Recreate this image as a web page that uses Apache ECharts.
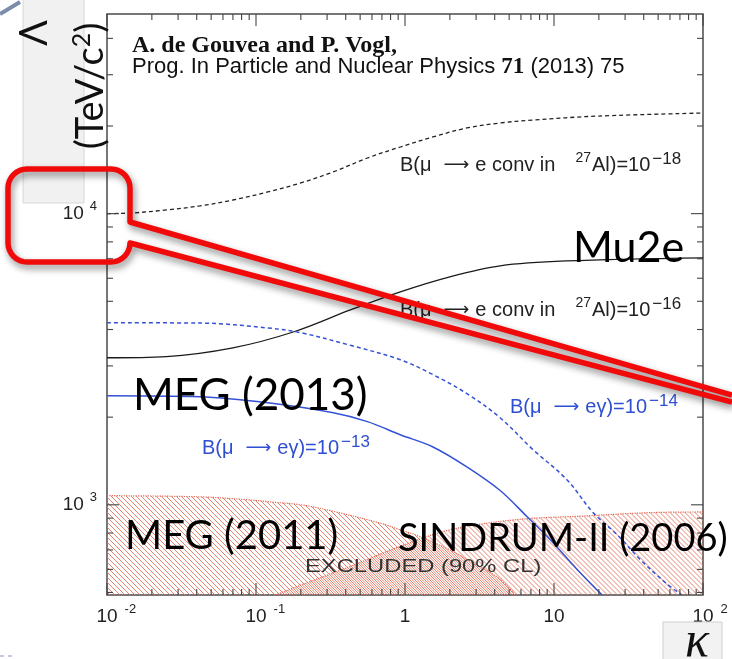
<!DOCTYPE html>
<html><head><meta charset="utf-8">
<script src="https://cdn.jsdelivr.net/npm/echarts@6/dist/echarts.min.js"></script>
<style>html,body{margin:0;padding:0;background:#fff;overflow:hidden}#c{width:732px;height:659px}</style>
</head><body><div id="c"></div>
<script>
// ---- data (kappa, Lambda [TeV]) ----
const convAl18 = [[0.01,10000],[0.015,10060],[0.025,10300],[0.042,10630],[0.07,11140],[0.12,11870],[0.2,12750],[0.33,13910],[0.56,15530],[0.93,16940],[1.54,18340],[2.6,19690],[4.35,20480],[7.2,20970],[20,21640],[100,22160]];
const convAl16 = [[0.01,3200],[0.025,3230],[0.07,3460],[0.18,3930],[0.43,4670],[0.93,5390],[2,6070],[4.35,6620],[12,6880],[100,7050]];
const megam14 = [[0.01,4220],[0.042,4210],[0.12,4050],[0.2,3900],[0.43,3530],[0.93,3150],[1.54,2800],[2.6,2410],[4.35,1990],[7.2,1550],[12.2,1220],[18.3,940],[26.5,790],[38,648],[57,536],[72,490]];
const megam13 = [[0.01,2370],[0.042,2350],[0.12,2240],[0.33,2070],[0.56,1930],[0.93,1740],[1.54,1580],[2.6,1350],[4.35,1120],[6.6,910],[9.4,760],[14.3,600],[21,490]];
const meg2011 = [[0.01,1075],[0.042,1065],[0.09,1040],[0.12,1025],[0.2,1000],[0.33,950],[0.71,860],[0.93,820],[1.2,785],[2,700],[2.6,650],[4.35,555],[5.5,490]];
const sindrum2006 = [[0.135,490],[0.2,530],[0.43,615],[0.93,720],[2,820],[5.65,890],[15.7,915],[44,940],[100,945]];

const X_MIN = 0.01, X_MAX = 100, Y_MIN = 490, Y_MAX = 48500;
const xTickValues = [0.01, 0.1, 1, 10, 100];
const xTickBase = ['10', '10', '1', '10', '10'];
const xTickExp = ['-2', '-1', '', '', '2'];
const yTickValues = [1000, 10000];
const yTickBase = ['10', '10'];
const yTickExp = ['3', '4'];
const xMinorTicks = [0.02,0.03,0.04,0.05,0.06,0.07,0.08,0.09,0.2,0.3,0.4,0.5,0.6,0.7,0.8,0.9,2,3,4,5,6,7,8,9,20,30,40,50,60,70,80,90];
const yMinorTicks = [500,600,700,800,900,2000,3000,4000,5000,6000,7000,8000,9000,20000,30000,40000];

function findTick(v, arr){
  for (let i = 0; i < arr.length; i++) if (Math.abs(Math.log10(v) - Math.log10(arr[i])) < 1e-6) return i;
  return -1;
}
function hatch(offset){
  const n = 5;
  const c = document.createElement('canvas'); c.width = n; c.height = n;
  const g = c.getContext('2d');
  g.strokeStyle = 'rgba(226,118,98,0.9)'; g.lineWidth = 1;
  for (let k = -1; k <= 1; k++){ const o = k*n + offset; g.beginPath(); g.moveTo(o, 0); g.lineTo(o+n, n); g.stroke(); }
  return c;
}
function tickSeries(values, axis, len){
  return {
    type: 'custom', silent: true, z: 6, clip: false, animation: false,
    data: values.map(v => axis === 'x' ? [v, Y_MIN] : [X_MIN, v]),
    renderItem(params, api){
      const cs = params.coordSys;
      const p = api.coord([api.value(0), api.value(1)]);
      const st = {stroke: '#444', lineWidth: 1.1};
      if (axis === 'x'){
        const x = p[0];
        return {type: 'group', children: [
          {type: 'line', shape: {x1: x, y1: cs.y + cs.height, x2: x, y2: cs.y + cs.height - len}, style: st},
          {type: 'line', shape: {x1: x, y1: cs.y, x2: x, y2: cs.y + len}, style: st}]};
      }
      const y = p[1];
      return {type: 'group', children: [
        {type: 'line', shape: {x1: cs.x, y1: y, x2: cs.x + len, y2: y}, style: st},
        {type: 'line', shape: {x1: cs.x + cs.width, y1: y, x2: cs.x + cs.width - len, y2: y}, style: st}]};
    }
  };
}
// rounded callout outline (decoration)
function arcPts(cx, cy, r, a0, a1, n){
  const out = [];
  for (let i = 0; i <= n; i++){ const a = (a0 + (a1 - a0) * i / n) * Math.PI / 180; out.push([cx + r*Math.cos(a), cy + r*Math.sin(a)]); }
  return out;
}
const calloutPts = [].concat(
  [[732, 395], [130, 222]],
  arcPts(111, 188, 19, 0, -90, 8),
  arcPts(27, 188, 19, -90, -180, 8),
  arcPts(27, 243, 19, 180, 90, 8),
  arcPts(111, 243, 19, 90, 0, 8),
  [[732, 402]]
);

const SANS = 'Liberation Sans';
const GILL = 'Lato';
function labelRich(color){
  return {
    a: {fontFamily: SANS, fontSize: 20, fill: color, lineHeight: 28},
    r: {fontFamily: 'DejaVu Sans', fontSize: 18, fill: color, lineHeight: 28, padding: [0, 6, 0, 12]},
    s: {fontFamily: SANS, fontSize: 17, fill: color, verticalAlign: 'top', lineHeight: 17, padding: [0, 0, 0, 2]},
    t: {fontFamily: SANS, fontSize: 14, fill: color, verticalAlign: 'top', lineHeight: 14, padding: [0, 1, 0, 20]}
  };
}
const curve = (name, data, color, width, type) => ({
  type: 'line', name, data, showSymbol: false, smooth: 0.35, z: 3,
  lineStyle: {color, width, type}
});
const region = (name, data, offset) => ({
  type: 'line', name, data, showSymbol: false, smooth: 0.35, z: 2,
  lineStyle: {color: 'rgb(224,100,80)', width: 1.2, type: 'dotted'},
  areaStyle: {color: {image: hatch(offset), repeat: 'repeat'}, origin: 'start', opacity: 1}
});

const chart = echarts.init(document.getElementById('c'), null, {renderer: 'canvas'});
chart.setOption({
  animation: false,
  backgroundColor: '#ffffff',
  grid: {left: 107, top: 14, width: 596, height: 581, show: true, borderColor: '#4a4a4a', borderWidth: 1.5, backgroundColor: 'transparent'},
  xAxis: {
    type: 'log', logBase: 10, min: X_MIN, max: X_MAX,
    axisLine: {show: false}, axisTick: {show: false}, splitLine: {show: false}, minorTick: {show: false},
    axisLabel: {
      margin: 8,
      formatter: v => { const i = findTick(v, xTickValues); if (i < 0) return '';
        const e = xTickExp[i];
        return e ? `{h|${e}}{b|${xTickBase[i]}}{s|${e}}` : `{b|${xTickBase[i]}}`; },
      rich: {
        b: {fontFamily: SANS, fontSize: 19, color: '#222', lineHeight: 28},
        s: {fontFamily: SANS, fontSize: 13, color: '#222', verticalAlign: 'top', lineHeight: 13, padding: [0,0,0,7]},
        h: {fontFamily: SANS, fontSize: 13, color: 'rgba(0,0,0,0)', lineHeight: 13, padding: [0,7,0,0]}
      }
    }
  },
  yAxis: {
    type: 'log', logBase: 10, min: Y_MIN, max: Y_MAX,
    axisLine: {show: false}, axisTick: {show: false}, splitLine: {show: false}, minorTick: {show: false},
    axisLabel: {
      margin: 10,
      formatter: v => { const i = findTick(v, yTickValues); if (i < 0) return '';
        return `{b|${yTickBase[i]}}{s|${yTickExp[i]}}`; },
      rich: {
        b: {fontFamily: SANS, fontSize: 19, color: '#222', lineHeight: 28},
        s: {fontFamily: SANS, fontSize: 13, color: '#222', verticalAlign: 'top', lineHeight: 13, padding: [0,0,0,6]}
      }
    }
  },
  series: [
    region('MEG (2011)', meg2011, 0),
    region('SINDRUM-II (2006)', sindrum2006, 2.5),
    curve('conv 1e-18', convAl18, '#222', 1.3, [4, 3]),
    curve('conv 1e-16', convAl16, '#1a1a1a', 1.3, 'solid'),
    curve('meg 1e-14', megam14, '#3552d4', 1.5, [4, 3]),
    curve('meg 1e-13', megam13, '#3552d4', 1.5, 'solid'),
    tickSeries(xTickValues, 'x', 12),
    tickSeries(xMinorTicks, 'x', 6),
    tickSeries(yTickValues, 'y', 12),
    tickSeries(yMinorTicks, 'y', 6)
  ],
  graphic: [
    {type: 'line', shape: {x1: 0, y1: 14, x2: 20, y2: 2}, style: {stroke: '#7d8cab', lineWidth: 4}, z: 1},
    {type: 'line', shape: {x1: 0, y1: 656, x2: 15, y2: 656}, style: {stroke: '#aebbd2', lineWidth: 1.5, lineDash: [4, 4]}, z: 1},
    {type: 'rect', shape: {x: 23, y: -2, width: 61, height: 205}, style: {fill: '#f1f1f1', stroke: '#d6d6d6', lineWidth: 1}, z: 1},
    {type: 'text', x: 35, y: 33, rotation: Math.PI/2, z: 20,
      style: {text: 'Λ', fontFamily: GILL, fontSize: 38, fill: '#111', align: 'center', verticalAlign: 'middle'}},
    {type: 'text', x: 91, y: 86, rotation: Math.PI/2, z: 20,
      style: {text: '{a|(TeV/c}{s|2}{a|)}', align: 'center', verticalAlign: 'middle', fill: '#111',
        rich: {a: {fontFamily: GILL, fontSize: 38, fill: '#111', lineHeight: 44}, s: {fontFamily: GILL, fontSize: 25, fill: '#111', verticalAlign: 'top', lineHeight: 25}}}},
    {type: 'rect', shape: {x: 663, y: 622, width: 59, height: 40}, style: {fill: '#f2f2f2', stroke: '#cfcfcf', lineWidth: 1}, z: 1},
    {type: 'text', x: 697, y: 643, z: 20,
      style: {text: 'κ', fontFamily: 'Liberation Serif', fontStyle: 'italic', fontSize: 50, fill: '#111', align: 'center', verticalAlign: 'middle'}},
    {type: 'text', x: 132, y: 46, z: 20,
      style: {text: 'A. de Gouvea and P. Vogl,', fontFamily: 'Liberation Serif', fontWeight: 'bold', fontSize: 24, fill: '#111', verticalAlign: 'middle'}},
    {type: 'text', x: 132, y: 67, z: 20,
      style: {text: '{a|Prog. In Particle and Nuclear Physics }{b|71}{a| (2013) 75}', verticalAlign: 'middle', fill: '#111',
        rich: {a: {fontFamily: SANS, fontSize: 22, fill: '#111'}, b: {fontFamily: 'Liberation Serif', fontWeight: 'bold', fontSize: 23, fill: '#111'}}}},
    {type: 'text', x: 400, y: 165, z: 20,
      style: {text: '{a|B(μ}{r|⟶}{a|e conv in}{t|27}{a|Al)=10}{s|−18}', verticalAlign: 'middle', rich: labelRich('#222')}},
    {type: 'text', x: 400, y: 310, z: 20,
      style: {text: '{a|B(μ}{r|⟶}{a|e conv in}{t|27}{a|Al)=10}{s|−16}', verticalAlign: 'middle', rich: labelRich('#222')}},
    {type: 'text', x: 510, y: 407, z: 20,
      style: {text: '{a|B(μ}{r|⟶}{a|eγ)=10}{s|−14}', verticalAlign: 'middle', rich: labelRich('#2f4fd2')}},
    {type: 'text', x: 202, y: 448, z: 20,
      style: {text: '{a|B(μ}{r|⟶}{a|eγ)=10}{s|−13}', verticalAlign: 'middle', rich: labelRich('#2f4fd2')}},
    {type: 'text', x: 305, y: 567, z: 20, scaleX: 1.32,
      style: {text: 'EXCLUDED (90% CL)', fontFamily: SANS, fontSize: 18, fill: '#333', verticalAlign: 'middle'}},
    {type: 'text', x: 573, y: 248, z: 30,
      style: {text: 'Mu2e', fontFamily: GILL, fontSize: 43, fill: '#000', verticalAlign: 'middle'}},
    {type: 'text', x: 133, y: 396, z: 30,
      style: {text: 'MEG (2013)', fontFamily: GILL, fontSize: 44, fill: '#000', verticalAlign: 'middle'}},
    {type: 'text', x: 125, y: 536, z: 30,
      style: {text: 'MEG (2011)', fontFamily: GILL, fontSize: 40, fill: '#000', verticalAlign: 'middle'}},
    {type: 'text', x: 398, y: 539, z: 30,
      style: {text: 'SINDRUM-II (2006)', fontFamily: GILL, fontSize: 38, fill: '#000', verticalAlign: 'middle'}},
    {type: 'polyline', z: 40, shape: {points: calloutPts},
      style: {fill: null, stroke: '#f00a0a', lineWidth: 5.5, lineJoin: 'round',
        shadowBlur: 7, shadowColor: 'rgba(0,0,0,0.45)', shadowOffsetX: 2, shadowOffsetY: 4}}
  ]
});
</script>
</body></html>
